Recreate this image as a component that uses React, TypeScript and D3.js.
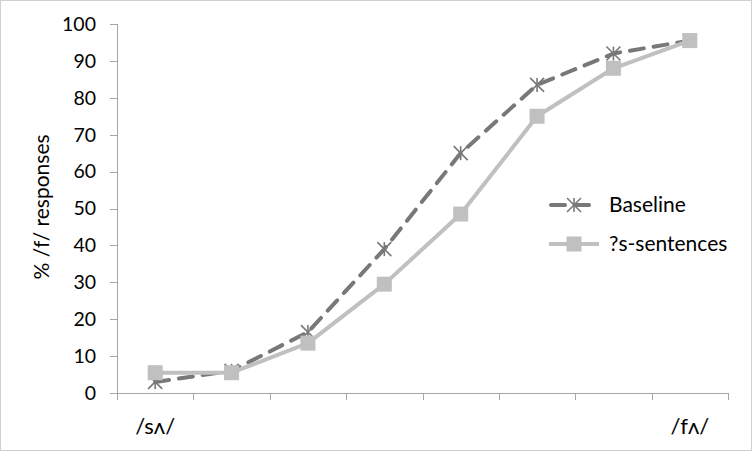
import React from "react";
import * as d3 from "d3";

const categories = ["/sʌ/", "2", "3", "4", "5", "6", "7", "/fʌ/"];
const tickLabels = ["/sʌ/", "", "", "", "", "", "", "/fʌ/"];
const baseline = [3, 6, 16.5, 39, 65, 83.5, 92, 95.5];
const sSentences = [5.5, 5.5, 13.5, 29.5, 48.5, 75, 88, 95.5];
const yTicks = [0, 10, 20, 30, 40, 50, 60, 70, 80, 90, 100];
const seriesNames = ["Baseline", "?s-sentences"];

const W = 752, H = 451;
const FONT = "Lato, 'Open Sans', sans-serif";

export default function App() {
  const x = d3.scaleBand().domain(categories).range([117, 728]);
  const y = d3.scaleLinear().domain([0, 100]).range([393, 24]);
  const cx = (c: string) => (x(c) as number) + x.bandwidth() / 2;
  const line = d3.line<number>().x((_, i) => cx(categories[i])).y((d) => y(d));
  const dark = "#787878";
  const light = "#c0c0c0";
  const axisCol = "#a6a6a6";

  const star = (px: number, py: number, key: string, s = 7) => (
    <g key={key} stroke={dark} strokeWidth={1.6}>
      <line x1={px - s} y1={py - s} x2={px + s} y2={py + s} />
      <line x1={px - s} y1={py + s} x2={px + s} y2={py - s} />
      <line x1={px} y1={py - s} x2={px} y2={py + s} />
    </g>
  );

  const ticksX = [...categories.map((c) => x(c) as number), 728];

  return (
    <svg width={W} height={H} style={{ position: "absolute", left: 0, top: 0 }} fontFamily={FONT}>
      <rect x={0.5} y={0.5} width={W - 1} height={H - 1} fill="#fff" stroke="#d0d0d0" />
      {/* y axis */}
      <line x1={117.5} x2={117.5} y1={y(100)} y2={y(0)} stroke={axisCol} />
      {yTicks.map((t) => (
        <g key={t}>
          <line x1={110} x2={117} y1={Math.round(y(t)) + 0.5} y2={Math.round(y(t)) + 0.5} stroke={axisCol} />
          <text x={96} y={y(t)} dy="0.35em" textAnchor="end" fontSize={19.5} fill="#000">{t}</text>
        </g>
      ))}
      {/* x axis */}
      <line x1={117} x2={728} y1={393.5} y2={393.5} stroke={axisCol} />
      {ticksX.map((tx, i) => (
        <line key={i} x1={Math.round(tx) + 0.5} x2={Math.round(tx) + 0.5} y1={393} y2={400} stroke={axisCol} />
      ))}
      {categories.map((c, i) => (
        <text key={c} x={cx(c)} y={426} dy="0.35em" textAnchor="middle" fontSize={22} fill="#000">{tickLabels[i]}</text>
      ))}
      <text transform={`translate(42,207) rotate(-90)`} textAnchor="middle" dy="0.35em" fontSize={21} fill="#000">% /f/ responses</text>

      {/* series */}
      <path d={line(baseline) as string} fill="none" stroke={dark} strokeWidth={4} strokeDasharray="14 10" strokeLinecap="round" strokeLinejoin="round" />
      {baseline.map((v, i) => star(cx(categories[i]), y(v), "b" + i))}
      <path d={line(sSentences) as string} fill="none" stroke={light} strokeWidth={4} strokeLinejoin="round" />
      {sSentences.map((v, i) => (
        <rect key={"s" + i} x={cx(categories[i]) - 7.5} y={y(v) - 7.5} width={15} height={15} fill={light} />
      ))}

      {/* legend */}
      <line x1={551} x2={597} y1={205} y2={205} stroke={dark} strokeWidth={4} strokeDasharray="14 10" strokeLinecap="round" />
      {star(574, 205, "lb")}
      <text x={609} y={205} dy="0.35em" fontSize={21} fill="#000">{seriesNames[0]}</text>
      <line x1={549} x2={599} y1={244} y2={244} stroke={light} strokeWidth={4} />
      <rect x={566.5} y={236.5} width={15} height={15} fill={light} />
      <text x={609} y={244} dy="0.35em" fontSize={21} fill="#000">{seriesNames[1]}</text>
    </svg>
  );
}
